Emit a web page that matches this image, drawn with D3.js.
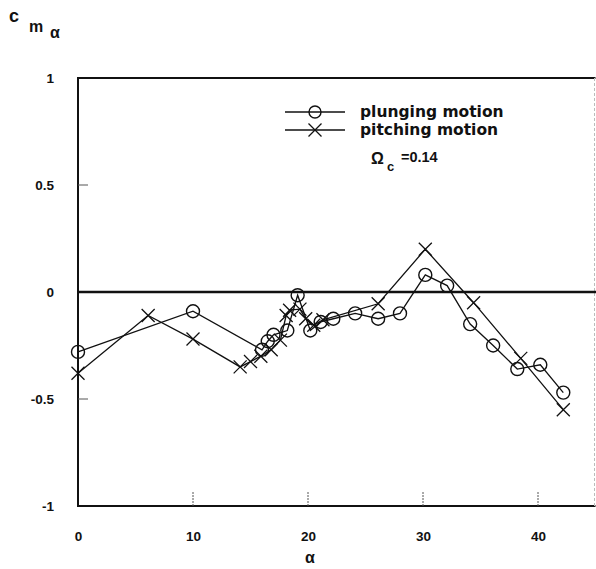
<!DOCTYPE html>
<html>
<head>
<meta charset="utf-8">
<script src="https://cdn.jsdelivr.net/npm/d3@7/dist/d3.min.js"></script>
<style>
  html, body { margin: 0; padding: 0; background: #fff; }
  svg { display: block; }
  text { font-family: Arial, "Liberation Sans", Helvetica, sans-serif; font-weight: bold; fill: #111; }
  .legend-text { font-family: "DejaVu Sans", Arial, sans-serif; }
</style>
</head>
<body>
<svg id="chart" width="596" height="569"></svg>
<script>
// Plunging motion: angle of attack (deg) and Cm_alpha
const plungeAlpha = [0, 10, 16, 16.5, 17, 18.2, 19.1, 20.2, 21.1, 22.2, 24.1, 26.1, 28, 30.2, 32.1, 34.1, 36.1, 38.2, 40.2, 42.2];
const plungeCm    = [-0.28, -0.09, -0.27, -0.23, -0.2, -0.18, -0.015, -0.18, -0.14, -0.125, -0.1, -0.125, -0.1, 0.08, 0.03, -0.15, -0.25, -0.36, -0.34, -0.47];

// Pitching motion
const pitchAlpha = [0, 6.1, 10, 14.1, 15, 15.9, 16.8, 17.6, 18.1, 18.4, 19.3, 19.8, 20.5, 21.3, 26.1, 30.2, 34.4, 38.5, 42.2];
const pitchCm    = [-0.38, -0.11, -0.22, -0.35, -0.325, -0.3, -0.27, -0.225, -0.11, -0.085, -0.08, -0.125, -0.155, -0.13, -0.055, 0.2, -0.05, -0.31, -0.55];

const xTicks = [0, 10, 20, 30, 40];
const yTicks = [-1, -0.5, 0, 0.5, 1];
const yTickLabels = ["-1", "-0.5", "0", "0.5", "1"];

const svg = d3.select("#chart");
const x = d3.scaleLinear().domain([0, 45]).range([78, 595.5]);
const y = d3.scaleLinear().domain([-1, 1]).range([506, 78]);

const plunge = plungeAlpha.map((a, i) => [a, plungeCm[i]]);
const pitch = pitchAlpha.map((a, i) => [a, pitchCm[i]]);

// frame
svg.append("line").attr("x1", x(0)).attr("x2", x(45)).attr("y1", y(1)).attr("y2", y(1))
  .attr("stroke", "#111").attr("stroke-width", 2);
svg.append("line").attr("x1", x(0)).attr("x2", x(45)).attr("y1", y(-1)).attr("y2", y(-1))
  .attr("stroke", "#111").attr("stroke-width", 2);
svg.append("line").attr("x1", x(0)).attr("x2", x(0)).attr("y1", y(1) - 1).attr("y2", y(-1) + 1)
  .attr("stroke", "#111").attr("stroke-width", 2);
svg.append("line").attr("x1", x(45) - 1).attr("x2", x(45) - 1).attr("y1", y(1)).attr("y2", y(-1))
  .attr("stroke", "#bbb").attr("stroke-width", 1).attr("stroke-dasharray", "3,2");
// zero line
svg.append("line").attr("x1", x(0)).attr("x2", 596).attr("y1", y(0)).attr("y2", y(0))
  .attr("stroke", "#111").attr("stroke-width", 2.5);

// inward ticks
svg.append("g").selectAll("line").data(xTicks.slice(1)).join("line")
  .attr("x1", d => x(d)).attr("x2", d => x(d))
  .attr("y1", y(-1)).attr("y2", y(-1) - 14)
  .attr("stroke", "#555").attr("stroke-width", 1).attr("stroke-dasharray", "2,1");
svg.append("g").selectAll("line").data([0.5, -0.5]).join("line")
  .attr("x1", x(0)).attr("x2", x(0) + 10)
  .attr("y1", d => y(d)).attr("y2", d => y(d))
  .attr("stroke", "#555").attr("stroke-width", 1);

// axis labels via d3 axes
const xAxis = d3.axisBottom(x).tickValues(xTicks).tickSize(0).tickPadding(25).tickFormat(d3.format("d"));
svg.append("g").attr("transform", `translate(0,${y(-1)})`).call(xAxis)
  .call(g => g.select(".domain").remove())
  .selectAll("text").attr("font-size", 13.5).attr("font-family", "Arial, 'Liberation Sans', sans-serif")
  .attr("font-weight", "bold").attr("fill", "#111");

const yAxis = d3.axisLeft(y).tickValues(yTicks).tickSize(0).tickPadding(24)
  .tickFormat(d => yTickLabels[yTicks.indexOf(d)]);
svg.append("g").attr("transform", `translate(${x(0)},0)`).call(yAxis)
  .call(g => g.select(".domain").remove())
  .selectAll("text").attr("font-size", 13.5).attr("font-family", "Arial, 'Liberation Sans', sans-serif")
  .attr("font-weight", "bold").attr("fill", "#111");

// axis titles
svg.append("text").attr("x", 305).attr("y", 563).attr("font-size", 16).text("α");
const yt = svg.append("g");
yt.append("text").attr("x", 9).attr("y", 22).attr("font-size", 18).text("c");
yt.append("text").attr("x", 29).attr("y", 32).attr("font-size", 16).text("m");
yt.append("text").attr("x", 50).attr("y", 38).attr("font-size", 16).text("α");

// series lines
const line = d3.line().x(d => x(d[0])).y(d => y(d[1]));
svg.append("path").datum(plunge).attr("d", line).attr("fill", "none")
  .attr("stroke", "#111").attr("stroke-width", 1.3);
svg.append("path").datum(pitch).attr("d", line).attr("fill", "none")
  .attr("stroke", "#111").attr("stroke-width", 1.3);

// markers
const crossPath = (s) => `M${-s},${-s}L${s},${s}M${-s},${s}L${s},${-s}`;
svg.append("g").selectAll("path").data(pitch).join("path")
  .attr("transform", d => `translate(${x(d[0])},${y(d[1])})`)
  .attr("d", crossPath(6.5)).attr("stroke", "#111").attr("stroke-width", 1.3).attr("fill", "none");
svg.append("g").selectAll("circle").data(plunge).join("circle")
  .attr("cx", d => x(d[0])).attr("cy", d => y(d[1])).attr("r", 6.5)
  .attr("fill", "none").attr("stroke", "#111").attr("stroke-width", 1.4);

// legend
const lg = svg.append("g");
const legendRows = [
  { label: "plunging motion", marker: "circle", ly: 112 },
  { label: "pitching motion", marker: "cross", ly: 130 }
];
legendRows.forEach(r => {
  lg.append("line").attr("x1", 285).attr("x2", 345).attr("y1", r.ly).attr("y2", r.ly)
    .attr("stroke", "#111").attr("stroke-width", 1.3);
  if (r.marker === "circle") {
    lg.append("circle").attr("cx", 315).attr("cy", r.ly).attr("r", 6)
      .attr("fill", "none").attr("stroke", "#111").attr("stroke-width", 1.4);
  } else {
    lg.append("path").attr("transform", `translate(315,${r.ly})`).attr("d", crossPath(6.5))
      .attr("stroke", "#111").attr("stroke-width", 1.3);
  }
  lg.append("text").attr("class", "legend-text").attr("x", 360).attr("y", r.ly + 5)
    .attr("font-size", 15.5).text(r.label);
});
lg.append("text").attr("x", 371).attr("y", 164).attr("font-size", 16).text("Ω");
lg.append("text").attr("x", 387).attr("y", 171).attr("font-size", 13).text("c");
lg.append("text").attr("x", 401).attr("y", 162).attr("font-size", 14.5).text("=0.14");
</script>
</body>
</html>
